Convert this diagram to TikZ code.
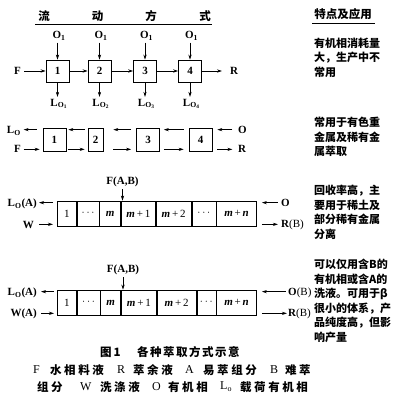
\documentclass[tikz,border=0pt]{standalone}
\usepackage{fontspec}
\setmainfont{Liberation Serif}
\newfontfamily\cjk{Noto Sans CJK SC}
\newfontfamily\cjkls[LetterSpace=22]{Noto Sans CJK SC}
\newfontfamily\cjkcap[LetterSpace=13]{Noto Sans CJK SC}
\usetikzlibrary{arrows.meta,calc}
\begin{document}
\begin{tikzpicture}[x=1pt,y=-1pt,
  flow/.style={-{Stealth[length=5pt,width=3.2pt]},line width=0.7pt},
  stagebox/.style={draw,line width=0.7pt,inner sep=0pt,minimum width=23pt,minimum height=22pt,font=\bfseries\fontsize{11}{11}\selectfont},
  cell/.style={draw,line width=0.7pt,inner sep=0pt,minimum height=25pt,anchor=west,font=\fontsize{11}{11}\selectfont},
  lab/.style={inner sep=0pt,font=\bfseries\fontsize{11}{11}\selectfont},
  note/.style={inner sep=0pt,anchor=north west,align=left,font=\cjk\bfseries\fontsize{11}{14.6}\selectfont},
  head/.style={inner sep=0pt,font=\cjk\bfseries\fontsize{11.5}{11.5}\selectfont},
  legl/.style={inner sep=0pt,anchor=west,font=\fontsize{12}{12}\selectfont},
  legc/.style={inner sep=0pt,anchor=west,font=\cjkls\bfseries\fontsize{11.5}{11.5}\selectfont},
  caption/.style={inner sep=0pt,anchor=west,font=\cjkcap\bfseries\fontsize{11.5}{11.5}\selectfont},
]
\useasboundingbox (0,0) rectangle (405,403);

% header
\node[head] (h1) at (44,16) {流};
\node[head] (h2) at (97.5,16) {动};
\node[head] (h3) at (151,16) {方};
\node[head] (h4) at (205,16) {式};
\draw[line width=1pt] (35,24.5) -- (212,24.5);
\node[head] (h5) at (343,14) {特点及应用};
\draw[line width=1pt] (312,23.5) -- (375,23.5);

% row 1
\node[stagebox] (a1) at (57.5,71) {1};
\node[stagebox] (a2) at (99.5,71) {2};
\node[stagebox] (a3) at (145,71) {3};
\node[stagebox] (a4) at (190,71) {4};
\foreach \i/\x in {1/59,2/101,3/146.5,4/191.5} {
  \node[lab] (o\i) at (\x,36) {O\textsubscript{1}};
  \draw[flow,shorten <=2pt] (o\i.south -| a\i.north) -- (a\i.north);
}
\foreach \i/\x in {1/59,2/101,3/146.5,4/191.5} {
  \node[lab] (lo\i) at (\x,104) {L\textsubscript{O\textsubscript{\i}}};
  \draw[flow,shorten >=2pt] (a\i.south) -- (a\i.south |- lo\i.north);
}
\node[lab] (F1) at (17.5,71) {F};
\draw[flow,shorten <=3pt] (F1.east) -- (a1.west);
\draw[flow] (a1.east) -- (a2.west);
\draw[flow] (a2.east) -- (a3.west);
\draw[flow] (a3.east) -- (a4.west);
\node[lab,anchor=west] (R1) at (230,71) {R};
\draw[flow,shorten >=8pt] (a4.east) -- (R1.west);
\node[note] (n1) at (314,37.7) {有机相消耗量\\大，生产中不\\常用};

% row 2
\node[stagebox,minimum height=23pt] (b1) at (54.5,139.5) {1};
\node[stagebox,minimum height=23pt,minimum width=15pt] (b2) at (95.5,139.5) {2};
\node[stagebox,minimum height=23pt] (b3) at (148,139.5) {3};
\node[stagebox,minimum height=23pt] (b4) at (200.5,139.5) {4};
\node[lab,anchor=east] (L2) at (21,131) {L\textsubscript{O}};
\node[lab,anchor=east] (F2) at (21,149) {F};
\node[lab,anchor=west] (O2) at (238,130) {O};
\node[lab,anchor=west] (R2) at (238,149) {R};
% organic (top, right to left)
\draw[flow] ($(b1.north west)+(-6,2)$) -- ($(b1.north west)+(-19,2)$);
\draw[flow] ($(b2.north west)+(-3,2)$) -- ($(b1.north east)+(2,2)$);
\draw[flow] ($(b3.north west)+(-5,2)$) -- ($(b2.north east)+(10,2)$);
\draw[flow] ($(b4.north west)+(-5,2)$) -- ($(b3.north east)+(4,2)$);
\draw[flow] ($(b4.north east)+(20,2)$) -- ($(b4.north east)+(5,2)$);
% aqueous (bottom, left to right)
\draw[flow] ($(b1.south west)+(-19,-2)$) -- ($(b1.south west)+(-3,-2)$);
\draw[flow] ($(b1.south east)+(2,-2)$) -- ($(b2.south west)+(-3,-2)$);
\draw[flow] ($(b2.south east)+(10,-2)$) -- ($(b3.south west)+(-5,-2)$);
\draw[flow] ($(b3.south east)+(4,-2)$) -- ($(b4.south west)+(-5,-2)$);
\draw[flow] ($(b4.south east)+(5,-2)$) -- ($(b4.south east)+(20,-2)$);
\node[note] (n2) at (314,116.7) {常用于有色重\\金属及稀有金\\属萃取};

% row 3
\node[cell,minimum width=19pt] (p1) at (57,213.5) {1};
\node[cell,minimum width=22pt] (p2) at (p1.east) {$\cdots$};
\node[cell,minimum width=21pt] (p3) at (p2.east) {\textbf{\textit{m}}};
\node[cell,minimum width=34pt] (p4) at (p3.east) {\textbf{\textit{m}}\,+\,1};
\node[cell,minimum width=35pt] (p5) at (p4.east) {\textbf{\textit{m}}\,+\,2};
\node[cell,minimum width=24pt] (p6) at (p5.east) {$\cdots$};
\node[cell,minimum width=40pt] (p7) at (p6.east) {\textbf{\textit{m}}\,+\,\textbf{\textit{n}}};
\node[lab] (f3) at (122.5,182) {F(A,B)};
\draw[flow,shorten <=2pt] (f3.south) -- (f3.south |- p4.north);
\node[lab,anchor=east] (L3) at (37,204) {L\textsubscript{O}(A)};
\node[lab,anchor=east] (W3) at (34,224.5) {W};
\draw[flow] ($(p1.north west)+(-4,2)$) -- ($(p1.north west)+(-18,2)$);
\draw[flow] ($(p1.south west)+(-18,-2)$) -- ($(p1.south west)+(-4,-2)$);
\node[lab,anchor=west] (O3) at (281,203) {O};
\node[lab,anchor=west] (R3) at (281,224.5) {R\textmd{(B)}};
\draw[flow] ($(p7.north east)+(21,2)$) -- ($(p7.north east)+(5,2)$);
\draw[flow] ($(p7.south east)+(5,-2)$) -- ($(p7.south east)+(21,-2)$);
\node[note] (n3) at (314,184.7) {回收率高，主\\要用于稀土及\\部分稀有金属\\分离};

% row 4
\node[cell,minimum width=19pt] (q1) at (57,302.5) {1};
\node[cell,minimum width=23pt] (q2) at (q1.east) {$\cdots$};
\node[cell,minimum width=20pt] (q3) at (q2.east) {\textbf{\textit{m}}};
\node[cell,minimum width=35pt] (q4) at (q3.east) {\textbf{\textit{m}}\,+\,1};
\node[cell,minimum width=39pt] (q5) at (q4.east) {\textbf{\textit{m}}\,+\,2};
\node[cell,minimum width=19pt] (q6) at (q5.east) {$\cdots$};
\node[cell,minimum width=40pt] (q7) at (q6.east) {\textbf{\textit{m}}\,+\,\textbf{\textit{n}}};
\node[lab] (f4) at (123,270) {F(A,B)};
\draw[flow,shorten <=2pt] (f4.south) -- (f4.south |- q4.north);
\node[lab,anchor=east] (L4) at (37,293) {L\textsubscript{O}(A)};
\node[lab,anchor=east] (W4) at (37,313.5) {W(A)};
\draw[flow] ($(q1.north west)+(-3,2)$) -- ($(q1.north west)+(-16,2)$);
\draw[flow] ($(q1.south west)+(-16,-2)$) -- ($(q1.south west)+(-3,-2)$);
\node[lab,anchor=west] (O4) at (288,293) {O\textmd{(B)}};
\node[lab,anchor=west] (R4) at (288,313.5) {R\textmd{(B)}};
\draw[flow] ($(q7.north east)+(29,2)$) -- ($(q7.north east)+(5,2)$);
\draw[flow] ($(q7.south east)+(5,-2)$) -- ($(q7.south east)+(30,-2)$);
\node[note] (n4) at (314,258.7) {可以仅用含B的\\有机相或含A的\\洗液。可用于β\\很小的体系，产\\品纯度高，但影\\响产量};

% caption and legend
\node[caption] (cap1) at (100,352) {图\,1};
\node[caption] (cap2) at (137,352) {各种萃取方式示意};
\node[legl] (k1) at (33,370) {F};
\node[legc] (k2) at (50,370) {水相料液};
\node[legl] (k3) at (117,370) {R};
\node[legc] (k4) at (133,370) {萃余液};
\node[legl] (k5) at (185,370) {A};
\node[legc] (k6) at (203,370) {易萃组分};
\node[legl] (k7) at (270,370) {B};
\node[legc] (k8) at (285,370) {难萃};
\node[legc] (k9) at (37,387) {组分};
\node[legl] (k10) at (80,387) {W};
\node[legc] (k11) at (100,387) {洗涤液};
\node[legl] (k12) at (152,387) {O};
\node[legc] (k13) at (168,387) {有机相};
\node[legl] (k14) at (220,387) {L\textsubscript{o}};
\node[legc] (k15) at (240,387) {载荷有机相};
\end{tikzpicture}
\end{document}
